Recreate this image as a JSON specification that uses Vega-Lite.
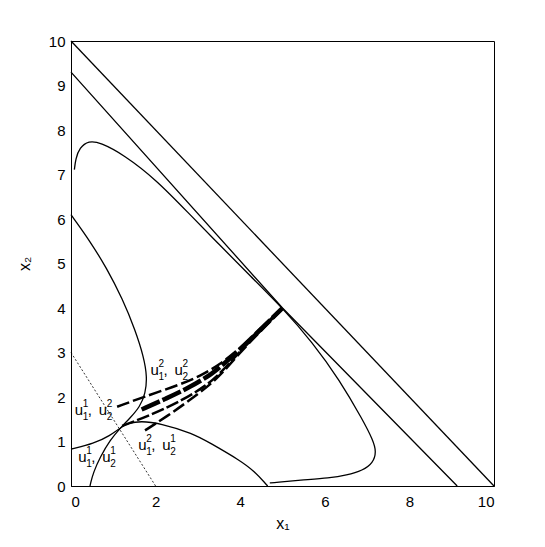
{
  "$schema": "https://vega.github.io/schema/vega-lite/v6.json",
  "autosize": "none",
  "width": 423,
  "height": 445,
  "padding": {"left": 71, "top": 41, "right": 51, "bottom": 61},
  "background": "white",
  "config": {
    "view": {"stroke": "black", "strokeWidth": 1},
    "font": "Liberation Sans",
    "axis": {
      "grid": false,
      "tickSize": 0,
      "domainColor": "black",
      "labelColor": "black",
      "titleColor": "black",
      "labelFont": "Liberation Sans",
      "titleFont": "Liberation Sans",
      "labelFontSize": 15,
      "titleFontSize": 16,
      "titleFontWeight": "normal"
    }
  },
  "datasets": {
    "curves": [
      {"s": "L1", "o": 1, "x": 0, "y": 10},
      {"s": "L1", "o": 2, "x": 10, "y": 0},
      {"s": "L2", "o": 1, "x": 0, "y": 9.3},
      {"s": "L2", "o": 2, "x": 5, "y": 4},
      {"s": "L2", "o": 3, "x": 9.13, "y": 0},
      {"s": "C3", "o": 1, "x": 0.08, "y": 7.11},
      {"s": "C3", "o": 2, "x": 0.11, "y": 7.35},
      {"s": "C3", "o": 3, "x": 0.2, "y": 7.6},
      {"s": "C3", "o": 4, "x": 0.42, "y": 7.76},
      {"s": "C3", "o": 5, "x": 0.69, "y": 7.72},
      {"s": "C3", "o": 6, "x": 1.24, "y": 7.45},
      {"s": "C3", "o": 7, "x": 2.02, "y": 6.88},
      {"s": "C3", "o": 8, "x": 2.81, "y": 6.1},
      {"s": "C3", "o": 9, "x": 3.52, "y": 5.41},
      {"s": "C3", "o": 10, "x": 4.25, "y": 4.71},
      {"s": "C3", "o": 11, "x": 5.0, "y": 4.0},
      {"s": "C3", "o": 12, "x": 5.7, "y": 3.24},
      {"s": "C3", "o": 13, "x": 6.35, "y": 2.38},
      {"s": "C3", "o": 14, "x": 6.9, "y": 1.48},
      {"s": "C3", "o": 15, "x": 7.14, "y": 1.03},
      {"s": "C3", "o": 16, "x": 7.22, "y": 0.77},
      {"s": "C3", "o": 17, "x": 7.14, "y": 0.52},
      {"s": "C3", "o": 18, "x": 6.9, "y": 0.35},
      {"s": "C3", "o": 19, "x": 6.51, "y": 0.24},
      {"s": "C3", "o": 20, "x": 6.12, "y": 0.18},
      {"s": "C3", "o": 21, "x": 5.41, "y": 0.13},
      {"s": "C3", "o": 22, "x": 4.85, "y": 0.08},
      {"s": "C3", "o": 23, "x": 4.7, "y": 0.07},
      {"s": "C4", "o": 1, "x": 0, "y": 6.1},
      {"s": "C4", "o": 2, "x": 0.05, "y": 6.03},
      {"s": "C4", "o": 3, "x": 0.45, "y": 5.5},
      {"s": "C4", "o": 4, "x": 0.84, "y": 4.9},
      {"s": "C4", "o": 5, "x": 1.22, "y": 4.2},
      {"s": "C4", "o": 6, "x": 1.52, "y": 3.5},
      {"s": "C4", "o": 7, "x": 1.72, "y": 2.9},
      {"s": "C4", "o": 8, "x": 1.8, "y": 2.45},
      {"s": "C4", "o": 9, "x": 1.76, "y": 2.08},
      {"s": "C4", "o": 10, "x": 1.63, "y": 1.78},
      {"s": "C4", "o": 11, "x": 1.39, "y": 1.52},
      {"s": "C4", "o": 12, "x": 1.2, "y": 1.34},
      {"s": "C4", "o": 13, "x": 0.92, "y": 1.03},
      {"s": "C4", "o": 14, "x": 0.69, "y": 0.65},
      {"s": "C4", "o": 15, "x": 0.53, "y": 0.31},
      {"s": "C4", "o": 16, "x": 0.46, "y": 0.05},
      {"s": "C4", "o": 17, "x": 0.45, "y": 0.0},
      {"s": "C5", "o": 1, "x": 0, "y": 0.83},
      {"s": "C5", "o": 2, "x": 0.05, "y": 0.84},
      {"s": "C5", "o": 3, "x": 0.53, "y": 0.95},
      {"s": "C5", "o": 4, "x": 0.92, "y": 1.13},
      {"s": "C5", "o": 5, "x": 1.2, "y": 1.33},
      {"s": "C5", "o": 6, "x": 1.35, "y": 1.41},
      {"s": "C5", "o": 7, "x": 1.65, "y": 1.46},
      {"s": "C5", "o": 8, "x": 2.1, "y": 1.41},
      {"s": "C5", "o": 9, "x": 2.89, "y": 1.18},
      {"s": "C5", "o": 10, "x": 3.28, "y": 0.97},
      {"s": "C5", "o": 11, "x": 3.99, "y": 0.58},
      {"s": "C5", "o": 12, "x": 4.35, "y": 0.32},
      {"s": "C5", "o": 13, "x": 4.62, "y": 0.03},
      {"s": "C5", "o": 14, "x": 4.65, "y": 0.0},
      {"s": "DOT", "o": 1, "x": 0, "y": 3},
      {"s": "DOT", "o": 2, "x": 2, "y": 0},
      {"s": "A", "o": 1, "x": 1.09, "y": 1.78},
      {"s": "A", "o": 2, "x": 1.71, "y": 2.0},
      {"s": "A", "o": 3, "x": 2.58, "y": 2.28},
      {"s": "A", "o": 4, "x": 3.05, "y": 2.47},
      {"s": "A", "o": 5, "x": 3.52, "y": 2.73},
      {"s": "A", "o": 6, "x": 4.0, "y": 3.1},
      {"s": "A", "o": 7, "x": 4.31, "y": 3.38},
      {"s": "A", "o": 8, "x": 4.7, "y": 3.74},
      {"s": "A", "o": 9, "x": 5.0, "y": 4.0},
      {"s": "B", "o": 1, "x": 1.67, "y": 1.72},
      {"s": "B", "o": 2, "x": 2.26, "y": 1.97},
      {"s": "B", "o": 3, "x": 2.81, "y": 2.22},
      {"s": "B", "o": 4, "x": 3.36, "y": 2.53},
      {"s": "B", "o": 5, "x": 3.7, "y": 2.82},
      {"s": "B", "o": 6, "x": 4.0, "y": 3.07},
      {"s": "B", "o": 7, "x": 4.31, "y": 3.36},
      {"s": "B", "o": 8, "x": 4.7, "y": 3.72},
      {"s": "B", "o": 9, "x": 5.0, "y": 4.0},
      {"s": "C", "o": 1, "x": 1.21, "y": 1.35},
      {"s": "C", "o": 2, "x": 1.87, "y": 1.59},
      {"s": "C", "o": 3, "x": 2.58, "y": 1.9},
      {"s": "C", "o": 4, "x": 3.2, "y": 2.25},
      {"s": "C", "o": 5, "x": 3.6, "y": 2.6},
      {"s": "C", "o": 6, "x": 4.0, "y": 3.03},
      {"s": "C", "o": 7, "x": 4.31, "y": 3.33},
      {"s": "C", "o": 8, "x": 4.7, "y": 3.7},
      {"s": "C", "o": 9, "x": 5.0, "y": 3.99},
      {"s": "D", "o": 1, "x": 1.75, "y": 1.25},
      {"s": "D", "o": 2, "x": 2.26, "y": 1.56},
      {"s": "D", "o": 3, "x": 2.81, "y": 1.93},
      {"s": "D", "o": 4, "x": 3.28, "y": 2.27},
      {"s": "D", "o": 5, "x": 3.6, "y": 2.56},
      {"s": "D", "o": 6, "x": 4.0, "y": 3.0},
      {"s": "D", "o": 7, "x": 4.31, "y": 3.31},
      {"s": "D", "o": 8, "x": 4.7, "y": 3.69},
      {"s": "D", "o": 9, "x": 5.0, "y": 3.99}
    ],
    "labels": [
      {"x": 1.88, "y": 2.49, "p1": "2", "b1": "1", "p2": "2", "b2": "2"},
      {"x": 0.09, "y": 1.59, "p1": "1", "b1": "1", "p2": "2", "b2": "2"},
      {"x": 0.17, "y": 0.54, "p1": "1", "b1": "1", "p2": "1", "b2": "2"},
      {"x": 1.59, "y": 0.8, "p1": "2", "b1": "1", "p2": "1", "b2": "2"}
    ]
  },
  "encoding": {
    "x": {
      "field": "x",
      "type": "quantitative",
      "scale": {"domain": [0, 10], "nice": false, "zero": false},
      "axis": {"values": [0, 2, 4, 6, 8, 10], "title": "x₁", "labelPadding": 8, "titlePadding": 6}
    },
    "y": {
      "field": "y",
      "type": "quantitative",
      "scale": {"domain": [0, 10], "nice": false, "zero": false},
      "axis": {"values": [0, 1, 2, 3, 4, 5, 6, 7, 8, 9, 10], "title": "x₂", "labelPadding": 6, "titlePadding": 16}
    }
  },
  "layer": [
    {
      "data": {"name": "curves"},
      "transform": [{"filter": {"field": "s", "oneOf": ["L1", "L2"]}}],
      "mark": {"type": "line", "color": "black", "strokeWidth": 1.3},
      "encoding": {"detail": {"field": "s"}, "order": {"field": "o", "type": "quantitative"}}
    },
    {
      "data": {"name": "curves"},
      "transform": [{"filter": {"field": "s", "oneOf": ["C3", "C4", "C5"]}}],
      "mark": {"type": "line", "color": "black", "strokeWidth": 1.3, "interpolate": "basis"},
      "encoding": {"detail": {"field": "s"}, "order": {"field": "o", "type": "quantitative"}}
    },
    {
      "data": {"name": "curves"},
      "transform": [{"filter": {"field": "s", "equal": "DOT"}}],
      "mark": {"type": "line", "color": "black", "strokeWidth": 0.8, "strokeDash": [2, 2]},
      "encoding": {"order": {"field": "o", "type": "quantitative"}}
    },
    {
      "data": {"name": "curves"},
      "transform": [{"filter": {"field": "s", "equal": "A"}}],
      "mark": {"type": "line", "color": "black", "strokeWidth": 2.5, "strokeDash": [13, 4], "interpolate": "basis"},
      "encoding": {"order": {"field": "o", "type": "quantitative"}}
    },
    {
      "data": {"name": "curves"},
      "transform": [{"filter": {"field": "s", "equal": "B"}}],
      "mark": {"type": "line", "color": "black", "strokeWidth": 4.5, "strokeDash": [20, 3], "interpolate": "basis"},
      "encoding": {"order": {"field": "o", "type": "quantitative"}}
    },
    {
      "data": {"name": "curves"},
      "transform": [{"filter": {"field": "s", "equal": "C"}}],
      "mark": {"type": "line", "color": "black", "strokeWidth": 2.5, "strokeDash": [13, 3], "interpolate": "basis"},
      "encoding": {"order": {"field": "o", "type": "quantitative"}}
    },
    {
      "data": {"name": "curves"},
      "transform": [{"filter": {"field": "s", "equal": "D"}}],
      "mark": {"type": "line", "color": "black", "strokeWidth": 2.5, "strokeDash": [13, 4], "interpolate": "basis"},
      "encoding": {"order": {"field": "o", "type": "quantitative"}}
    },
    {
      "data": {"name": "labels"},
      "mark": {"type": "text", "align": "left", "baseline": "alphabetic", "fontSize": 15, "color": "black", "dx": 0},
      "encoding": {"text": {"value": "u"}}
    },
    {
      "data": {"name": "labels"},
      "mark": {"type": "text", "align": "left", "baseline": "alphabetic", "fontSize": 10, "color": "black", "dx": 8, "dy": -8},
      "encoding": {"text": {"field": "p1"}}
    },
    {
      "data": {"name": "labels"},
      "mark": {"type": "text", "align": "left", "baseline": "alphabetic", "fontSize": 10, "color": "black", "dx": 8, "dy": 5},
      "encoding": {"text": {"field": "b1"}}
    },
    {
      "data": {"name": "labels"},
      "mark": {"type": "text", "align": "left", "baseline": "alphabetic", "fontSize": 15, "color": "black", "dx": 13},
      "encoding": {"text": {"value": ","}}
    },
    {
      "data": {"name": "labels"},
      "mark": {"type": "text", "align": "left", "baseline": "alphabetic", "fontSize": 15, "color": "black", "dx": 24},
      "encoding": {"text": {"value": "u"}}
    },
    {
      "data": {"name": "labels"},
      "mark": {"type": "text", "align": "left", "baseline": "alphabetic", "fontSize": 10, "color": "black", "dx": 32, "dy": -8},
      "encoding": {"text": {"field": "p2"}}
    },
    {
      "data": {"name": "labels"},
      "mark": {"type": "text", "align": "left", "baseline": "alphabetic", "fontSize": 10, "color": "black", "dx": 32, "dy": 5},
      "encoding": {"text": {"field": "b2"}}
    }
  ]
}
